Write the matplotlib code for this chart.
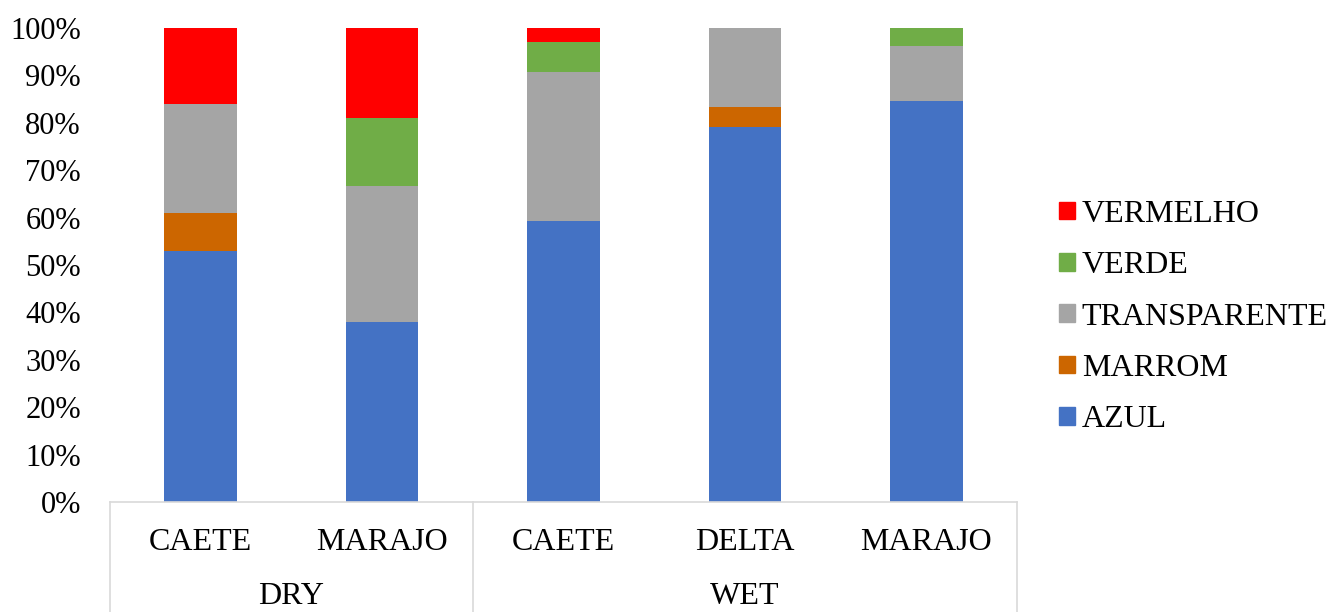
import matplotlib.pyplot as plt
import matplotlib.patches as mpatches
from matplotlib.lines import Line2D
from matplotlib.ticker import PercentFormatter

# ---------------------------------------------------------------------------
# Data (shares, stacked bottom to top)
# ---------------------------------------------------------------------------
sites = ["CAETE", "MARAJO", "CAETE", "DELTA", "MARAJO"]
seasons = ["DRY", "WET"]
season_sizes = [2, 3]  # number of sites under each season

series_names = ["AZUL", "MARROM", "TRANSPARENTE", "VERDE", "VERMELHO"]
azul = [53.0, 38.0, 59.3, 79.2, 84.7]
marrom = [8.0, 0.0, 0.0, 4.1, 0.0]
transparente = [23.0, 28.7, 31.4, 16.7, 11.5]
verde = [0.0, 14.3, 6.3, 0.0, 3.8]
vermelho = [16.0, 19.0, 3.0, 0.0, 0.0]

SERIES_COLORS = {
    "AZUL": "#4472C4",
    "MARROM": "#CC6600",
    "TRANSPARENTE": "#A5A5A5",
    "VERDE": "#70AD47",
    "VERMELHO": "#FF0000",
}

plt.rcParams["font.family"] = ["Liberation Serif", "DejaVu Serif"]
FS_TICK = 22
FS = 23

fig = plt.figure(figsize=(13.3, 6.12), dpi=100)
ax = fig.add_axes([0.0827, 0.1797, 0.6820, 0.7745])

x = list(range(len(sites)))
bottom = [0.0] * len(sites)
for name, vals in zip(series_names, [azul, marrom, transparente, verde, vermelho]):
    ax.bar(x, vals, width=0.4, bottom=bottom, color=SERIES_COLORS[name],
           linewidth=0, label=name)
    bottom = [b + v for b, v in zip(bottom, vals)]

ax.set_xlim(-0.5, len(sites) - 0.5)
ax.set_ylim(0, 100)
ax.set_yticks(range(0, 101, 10))
ax.yaxis.set_major_formatter(PercentFormatter(decimals=0))
ax.tick_params(axis="y", length=0, pad=21, labelsize=FS_TICK)
ax.set_xticks([])
for spine in ax.spines.values():
    spine.set_visible(False)

# --- Two-level category axis drawn as a table below the plot ---
grid_color = "#D9D9D9"
tr = ax.get_xaxis_transform()
ax.add_line(Line2D([-0.5, len(sites) - 0.5], [0, 0], transform=tr,
                   color=grid_color, lw=1.2, clip_on=False))
edges = [-0.5]
for n in season_sizes:
    edges.append(edges[-1] + n)
for e in edges:
    ax.add_line(Line2D([e, e], [0, -0.3], transform=tr,
                       color=grid_color, lw=1.2, clip_on=False))

for xi, site in zip(x, sites):
    ax.text(xi, -0.085, site, transform=tr, ha="center", va="center", fontsize=FS)
for i, season in enumerate(seasons):
    mid = (edges[i] + edges[i + 1]) / 2
    ax.text(mid, -0.199, season, transform=tr, ha="center", va="center", fontsize=FS)

# --- Legend (top entry = top of stack) ---
handles = [mpatches.Patch(color=SERIES_COLORS[n], label=n) for n in reversed(series_names)]
fig.legend(handles=handles, loc="center left", bbox_to_anchor=(0.787, 0.482),
           frameon=False, fontsize=FS, handlelength=0.48, handleheight=0.48,
           handletextpad=0.22, labelspacing=0.70, borderaxespad=0)

fig.savefig("out.png", dpi=100)
